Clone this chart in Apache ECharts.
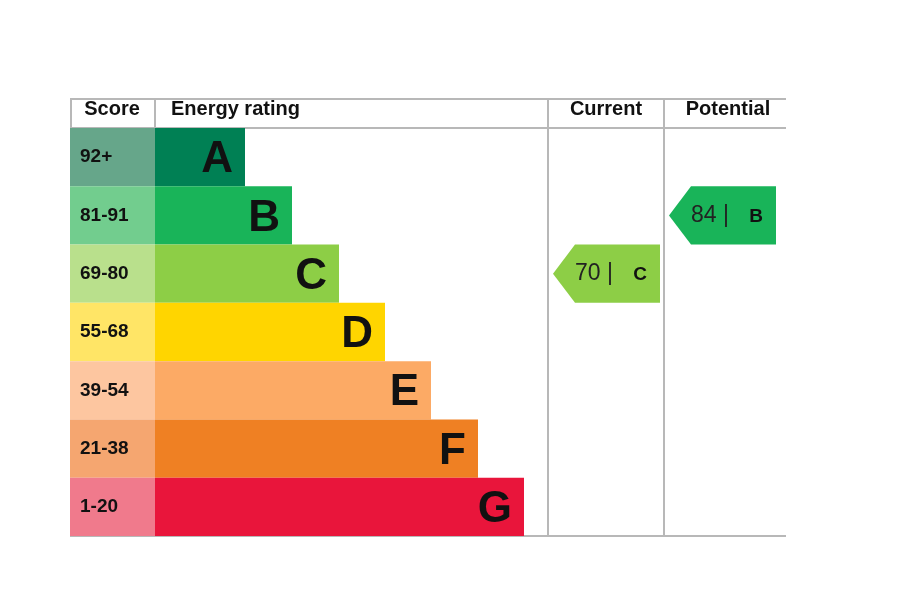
<!DOCTYPE html><html><head><meta charset="utf-8">
<script src="https://cdn.jsdelivr.net/npm/echarts@6/dist/echarts.min.js"></script>
<style>html,body{margin:0;background:#fff}#c{width:915px;height:596px}</style></head><body><div id="c"></div>
<script>
const bands=['A','B','C','D','E','F','G'];
const scoreRanges=['92+','81-91','69-80','55-68','39-54','21-38','1-20'];
const barEnds=[175,222,269,315,361,408,454]; // in table units, bar start at 85
const barColors=['#008054','#19b459','#8dce46','#ffd500','#fcaa65','#ef8023','#e9153b'];
const scoreColors=['#66a68a','#72cd8e','#b9e08c','#ffe566','#fdc6a0','#f5a670','#f07a8c'];
const current={value:70,band:'C'};
const potential={value:84,band:'B'};
const headers=['Score','Energy rating','Current','Potential'];

const chart=echarts.init(document.getElementById('c'));
const W=716, SC=85, CUR0=478, POT0=594;
const F='Arial, "Liberation Sans", sans-serif';
function row(i,api){const c=api.coord([0,i]);const h=api.size([0,1])[1];return {y:c[1]-h/2,h:h};}
chart.setOption({
 animation:false,
 grid:{left:70,right:129,top:128,bottom:60},
 xAxis:{type:'value',min:0,max:W,show:false},
 yAxis:{type:'category',data:bands,inverse:true,show:false},
 series:[
  {type:'custom',data:bands.map((b,i)=>[i,barEnds[i]]),renderItem:(p,api)=>{
    const i=api.value(0),r=row(i,api);const x0=api.coord([0,0])[0],xs=api.coord([SC,0])[0],xe=api.coord([api.value(1),0])[0];
    return {type:'group',children:[
     {type:'rect',shape:{x:x0,y:r.y,width:xs-x0,height:r.h},style:{fill:scoreColors[i]}},
     {type:'text',style:{text:scoreRanges[i],x:x0+10,y:r.y+r.h/2,verticalAlign:'middle',font:'bold 19px '+F,fill:'#111'}},
     {type:'rect',shape:{x:xs,y:r.y,width:xe-xs,height:r.h},style:{fill:barColors[i]}},
     {type:'text',style:{text:bands[i],x:xe-12,y:r.y+r.h/2+3,align:'right',verticalAlign:'middle',font:'bold 44px '+F,fill:'#111'}}
    ]};}},
  {type:'custom',data:[[bands.indexOf(current.band),current.value,CUR0],[bands.indexOf(potential.band),potential.value,POT0]],renderItem:(p,api)=>{
    const i=api.value(0),r=row(i,api);const v=api.value(1);const x0=api.coord([api.value(2),0])[0];
    const tip=x0+5,sq=x0+27,end=x0+112;const col=barColors[i];const ym=r.y+r.h/2;
    return {type:'group',children:[
     {type:'polygon',shape:{points:[[tip,ym],[sq,r.y],[end,r.y],[end,r.y+r.h],[sq,r.y+r.h]]},style:{fill:col}},
     {type:'text',style:{text:v+' |',x:sq,y:ym,verticalAlign:'middle',font:'23px '+F,fill:'#222'}},
     {type:'text',style:{text:bands[i],x:end-20,y:ym+1,align:'center',verticalAlign:'middle',font:'bold 19px '+F,fill:'#111'}}
    ]};}}
 ],
 graphic:[
  {type:'line',shape:{x1:70,y1:99,x2:786,y2:99},style:{stroke:'#b8b8b8',lineWidth:2}},
  {type:'line',shape:{x1:70,y1:128,x2:786,y2:128},style:{stroke:'#b8b8b8',lineWidth:2}},
  {type:'line',shape:{x1:70,y1:536,x2:786,y2:536},style:{stroke:'#b8b8b8',lineWidth:2}},
  {type:'line',shape:{x1:71,y1:99,x2:71,y2:128},style:{stroke:'#b8b8b8',lineWidth:2}},
  {type:'line',shape:{x1:155,y1:99,x2:155,y2:128},style:{stroke:'#b8b8b8',lineWidth:2}},
  {type:'line',shape:{x1:548,y1:99,x2:548,y2:536},style:{stroke:'#b8b8b8',lineWidth:2}},
  {type:'line',shape:{x1:664,y1:99,x2:664,y2:536},style:{stroke:'#b8b8b8',lineWidth:2}},
  {type:'text',style:{text:headers[0],x:112,y:109,align:'center',verticalAlign:'middle',font:'bold 20px '+F,fill:'#111'}},
  {type:'text',style:{text:headers[1],x:171,y:109,verticalAlign:'middle',font:'bold 20px '+F,fill:'#111'}},
  {type:'text',style:{text:headers[2],x:606,y:109,align:'center',verticalAlign:'middle',font:'bold 20px '+F,fill:'#111'}},
  {type:'text',style:{text:headers[3],x:728,y:109,align:'center',verticalAlign:'middle',font:'bold 20px '+F,fill:'#111'}}
 ]
});
</script></body></html>
